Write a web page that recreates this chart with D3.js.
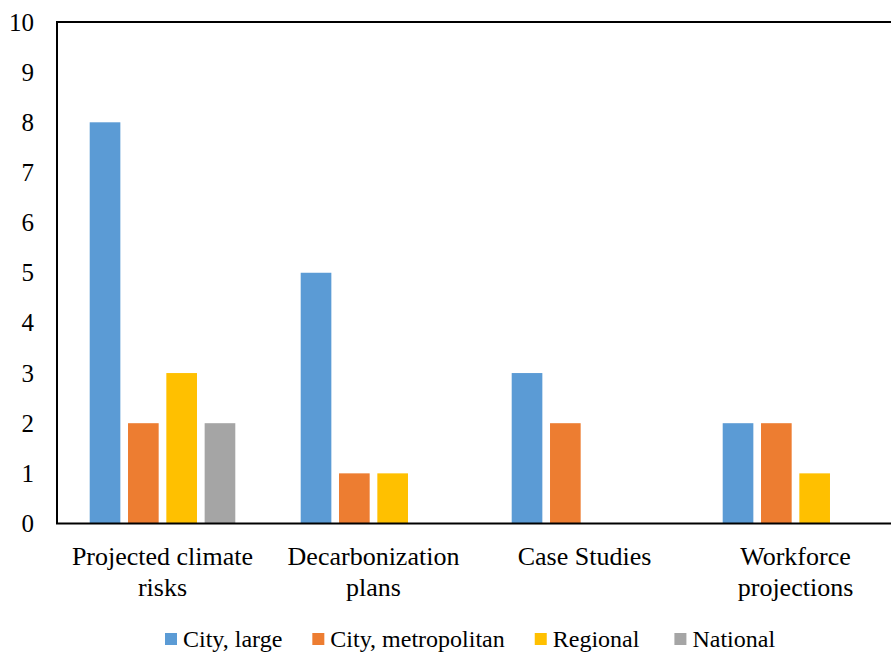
<!DOCTYPE html>
<html>
<head>
<meta charset="utf-8">
<script src="https://cdn.jsdelivr.net/npm/d3@7"></script>
<style>
  html, body { margin: 0; padding: 0; background: #fff; }
  svg text { font-family: "Liberation Serif", Tinos, "Times New Roman", Times, "Nimbus Roman", "Nimbus Roman No9 L", FreeSerif, "Noto Serif", "DejaVu Serif", serif; }
</style>
</head>
<body>
<svg id="chart" width="891" height="652"></svg>
<script>
// Counts of documents by topic and jurisdiction level
const categories = [["Projected climate", "risks"], ["Decarbonization", "plans"], ["Case Studies"], ["Workforce", "projections"]];
const seriesNames = ["City, large", "City, metropolitan", "Regional", "National"];
const cityLarge = [8, 5, 3, 2];
const cityMetro = [2, 1, 2, 2];
const regional = [3, 1, 0, 1];
const national = [2, 0, 0, 0];
const yTicks = [0, 1, 2, 3, 4, 5, 6, 7, 8, 9, 10];
const colors = ["#5B9BD5", "#ED7D31", "#FFC000", "#A5A5A5"];

const seriesValues = [cityLarge, cityMetro, regional, national];
const catKeys = categories.map(c => c.join(" "));

const svg = d3.select("#chart");
const plotLeft = 57, plotRight = 901, plotTop = 22, plotBottom = 523.5;

const x0 = d3.scaleBand().domain(catKeys).range([plotLeft, plotRight]).paddingInner(0).paddingOuter(0);
const x1 = d3.scaleBand().domain(seriesNames).range([32.7, x0.bandwidth() - 32.7]).paddingInner(0.2).paddingOuter(0);
const y = d3.scaleLinear().domain([0, 10]).range([plotBottom, plotTop]);

// Bars
const groups = svg.append("g").selectAll("g")
  .data(catKeys)
  .join("g")
  .attr("transform", d => `translate(${x0(d)},0)`);

groups.selectAll("rect")
  .data((d, i) => seriesNames.map((s, j) => ({ s, j, v: seriesValues[j][i] })).filter(e => e.v > 0))
  .join("rect")
  .attr("x", e => x1(e.s))
  .attr("width", x1.bandwidth())
  .attr("y", e => y(e.v))
  .attr("height", e => y(0) - y(e.v))
  .attr("fill", e => colors[e.j]);

// Plot frame
svg.append("rect")
  .attr("x", plotLeft).attr("y", plotTop)
  .attr("width", plotRight - plotLeft).attr("height", plotBottom - plotTop)
  .attr("fill", "none").attr("stroke", "#000").attr("stroke-width", 2);

// Y axis labels
const yAxis = d3.axisLeft(y).tickValues(yTicks).tickSize(0).tickPadding(23).tickFormat(d3.format("d"));
const ya = svg.append("g").attr("transform", `translate(${plotLeft},0)`).call(yAxis);
ya.attr("font-family", null);
ya.select(".domain").remove();
ya.selectAll("text").style("font-size", "25px").attr("fill", "#000");

// Category labels
const xl = svg.append("g");
categories.forEach((lines, i) => {
  const cx = x0(catKeys[i]) + x1("City, large") + (x1("National") + x1.bandwidth() - x1("City, large")) / 2;
  const t = xl.append("text")
    .attr("x", cx).attr("y", 565)
    .attr("text-anchor", "middle").style("font-size", "26px").attr("fill", "#000");
  lines.forEach((ln, k) => {
    t.append("tspan").attr("x", cx).attr("dy", k === 0 ? 0 : 31).text(ln);
  });
});

// Legend
const lg = svg.append("g");
let lx = 165;
const legendGaps = [30, 30, 35, 0];
seriesNames.forEach((name, j) => {
  lg.append("rect").attr("x", lx).attr("y", 633).attr("width", 12).attr("height", 12).attr("fill", colors[j]);
  const t = lg.append("text").attr("x", lx + 18).attr("y", 647)
    .style("font-size", "24px").attr("fill", "#000").text(name);
  lx += 18 + t.node().getComputedTextLength() + legendGaps[j];
});
</script>
</body>
</html>
